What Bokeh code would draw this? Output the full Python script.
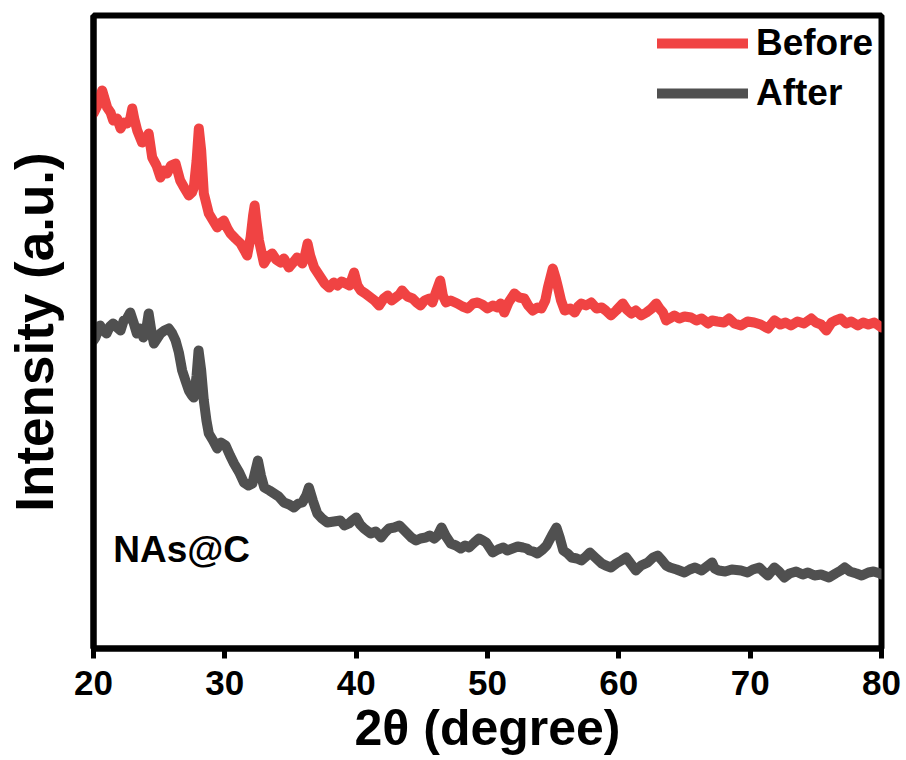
from bokeh.plotting import figure
from bokeh.models import Range1d, FixedTicker, Legend, LegendItem, Label
from bokeh.embed import file_html
from bokeh.resources import INLINE

FONT = "Liberation Sans"

before_2theta = [
    20.0, 20.3, 20.66, 21.04, 21.3, 21.5, 21.8, 22.06, 22.3, 22.57,
    22.8, 22.95, 23.1, 23.33, 23.7, 24.0, 24.2, 24.47, 24.8, 25.1,
    25.35, 25.6, 25.9, 26.25, 26.6, 26.9, 27.26, 27.5, 27.64, 27.85,
    28.02, 28.2, 28.4, 28.78, 29.1, 29.42, 29.7, 29.92, 30.2, 30.43,
    30.8, 31.2, 31.5, 31.7, 31.96, 32.15, 32.27, 32.4, 32.6, 32.98,
    33.3, 33.6, 33.9, 34.25, 34.5, 34.88, 35.2, 35.5, 35.9, 36.1,
    36.3, 36.5, 36.8, 37.3, 37.6, 37.94, 38.3, 38.57, 38.9, 39.2,
    39.5, 39.84, 40.1, 40.35, 40.7, 41.1, 41.4, 41.75, 42.1, 42.4,
    42.7, 43.0, 43.3, 43.5, 43.9, 44.3, 44.6, 44.9, 45.2, 45.56,
    45.8, 46.07, 46.4, 46.6, 46.84, 47.2, 47.7, 48.1, 48.5, 48.9,
    49.25, 49.6, 50.0, 50.4, 50.78, 51.0, 51.28, 51.6, 52.05, 52.4,
    52.8, 53.1, 53.44, 53.8, 54.1, 54.4, 54.6, 54.97, 55.2, 55.37,
    55.6, 55.88, 56.3, 56.64, 56.9, 57.15, 57.5, 57.9, 58.3, 58.7,
    59.0, 59.4, 59.8, 60.3, 60.6, 60.95, 61.3, 61.7, 62.1, 62.5,
    62.85, 63.1, 63.36, 63.6, 63.87, 64.23, 64.6, 65.0, 65.5, 65.9,
    66.3, 66.8, 67.1, 67.5, 68.0, 68.4, 68.8, 69.3, 69.8, 70.3,
    70.8, 71.35, 71.85, 72.3, 72.7, 73.1, 73.6, 74.1, 74.65, 75.0,
    75.4, 75.8, 76.2, 76.5, 76.9, 77.3, 77.7, 78.2, 78.6, 79.0,
    79.45, 80.0,
]
before_intensity = [
    535, 543, 558, 541, 536, 528, 530, 520, 526, 525,
    530, 540, 530, 518, 506, 508, 515, 491, 483, 471,
    478, 475, 483, 485, 468, 461, 453, 456, 461, 488,
    520, 498, 455, 435, 428, 421, 426, 428, 420, 415,
    410, 405, 398, 393, 411, 433, 443, 428, 408, 385,
    392, 395, 389, 386, 390, 381, 386, 391, 385, 393,
    405, 393, 381, 371, 365, 361, 366, 363, 367, 365,
    363, 376, 363, 358, 355, 351, 348, 343, 350, 353,
    348, 351, 354, 358, 352, 350, 346, 343, 348, 350,
    346, 356, 368, 353, 346, 348, 345, 342, 340, 345,
    346, 344, 340, 343, 341, 345, 336, 346, 355, 351,
    350, 343, 338, 341, 340, 348, 361, 380, 370, 361,
    348, 338, 340, 336, 342, 345, 343, 346, 340, 341,
    338, 333, 338, 345, 339, 335, 338, 333, 336, 340,
    345, 340, 336, 328, 330, 333, 330, 332, 331, 328,
    330, 325, 328, 327, 326, 330, 325, 323, 327, 326,
    324, 320, 328, 324, 326, 323, 327, 325, 330, 326,
    324, 318, 326, 328, 330, 325, 327, 323, 326, 324,
    326, 321,
]

after_2theta = [
    20.0, 20.15, 20.5, 20.75, 21.0, 21.25, 21.5, 21.8, 22.06, 22.3,
    22.55, 22.8, 23.05, 23.3, 23.55, 23.8, 24.0, 24.2, 24.4, 24.6,
    24.85, 25.1, 25.4, 25.73, 26.0, 26.25, 26.5, 26.75, 27.0, 27.26,
    27.5, 27.64, 27.85, 28.0, 28.2, 28.4, 28.6, 28.78, 29.1, 29.42,
    29.7, 30.06, 30.4, 30.7, 31.1, 31.45, 31.8, 32.1, 32.3, 32.52,
    32.75, 33.0, 33.4, 33.75, 34.1, 34.5, 34.9, 35.26, 35.6, 35.9,
    36.2, 36.4, 36.7, 37.04, 37.4, 37.8, 38.3, 38.8, 39.1, 39.45,
    39.7, 40.0, 40.3, 40.6, 41.1, 41.5, 41.9, 42.2, 42.5, 42.9,
    43.3, 43.6, 43.9, 44.2, 44.56, 44.9, 45.3, 45.6, 45.95, 46.2,
    46.5, 46.8, 47.2, 47.6, 47.96, 48.3, 48.6, 49.0, 49.35, 49.65,
    49.9, 50.2, 50.4, 50.8, 51.2, 51.5, 51.9, 52.3, 52.7, 53.0,
    53.2, 53.5, 53.8, 54.2, 54.5, 54.9, 55.25, 55.5, 55.77, 56.1,
    56.4, 56.8, 57.15, 57.5, 57.8, 58.2, 58.7, 59.0, 59.4, 59.8,
    60.2, 60.56, 60.9, 61.3, 61.7, 62.2, 62.6, 62.96, 63.3, 63.6,
    63.9, 64.4, 65.0, 65.4, 65.8, 66.3, 66.7, 67.1, 67.3, 67.6,
    68.1, 68.6, 69.3, 69.8, 70.2, 70.7, 71.0, 71.35, 71.85, 72.2,
    72.6, 73.0, 73.5, 74.0, 74.4, 74.9, 75.4, 76.0, 76.5, 76.9,
    77.2, 77.6, 78.1, 78.5, 79.0, 79.4, 79.9, 80.0,
]
after_intensity = [
    308, 311, 323, 318, 315, 322, 325, 321, 318, 328,
    330, 336, 326, 315, 320, 311, 318, 335, 318, 305,
    310, 315, 318, 320, 315, 308, 296, 278, 268, 258,
    253, 251, 273, 298, 278, 248, 228, 215, 208, 200,
    206, 203, 193, 185, 176, 166, 163, 165, 176, 188,
    173, 161, 158, 155, 152, 146, 144, 141, 145, 146,
    153, 161, 148, 135, 130, 126, 127, 128, 123, 125,
    128, 131, 124, 120, 115, 117, 111, 116, 120, 121,
    123, 119, 115, 111, 108, 110, 111, 113, 110, 113,
    121, 113, 105, 103, 100, 103, 101, 106, 110, 108,
    106, 100, 96, 99, 101, 98, 100, 102, 101, 100,
    98, 97, 95, 99, 103, 113, 121, 111, 98, 95,
    91, 90, 88, 92, 96, 91, 85, 83, 81, 85,
    88, 91, 85, 78, 83, 86, 91, 93, 88, 83,
    81, 79, 76, 79, 81, 78, 82, 86, 80, 78,
    77, 79, 78, 76, 79, 81, 77, 73, 81, 77,
    71, 75, 77, 74, 76, 73, 74, 71, 75, 78,
    81, 77, 75, 73, 76, 77, 75, 74,
]

x_ticks = [20, 30, 40, 50, 60, 70, 80]
series_labels = ["Before", "After"]
series_colors = ["#F04343", "#505050"]
sample_name = "NAs@C"

p = figure(width=906, height=760, output_backend="svg", toolbar_location=None,
           x_range=Range1d(20, 80), y_range=Range1d(0, 633),
           min_border_left=93, min_border_right=25, min_border_top=15,
           min_border_bottom=112)
p.background_fill_color = "white"
p.border_fill_color = "white"
p.grid.visible = False
p.outline_line_color = "black"
p.outline_line_width = 6

r1 = p.line(before_2theta, before_intensity, line_color=series_colors[0],
            line_width=10, line_join="round", line_cap="round")
r2 = p.line(after_2theta, after_intensity, line_color=series_colors[1],
            line_width=10, line_join="round", line_cap="round")

xa = p.xaxis[0]
xa.ticker = FixedTicker(ticks=x_ticks)
xa.axis_label = "2\u03b8 (degree)"
xa.axis_label_text_font = FONT
xa.axis_label_text_font_style = "bold"
xa.axis_label_text_font_size = "50px"
xa.axis_label_text_color = "black"
xa.axis_label_standoff = 2
xa.major_label_text_font = FONT
xa.major_label_text_font_style = "bold"
xa.major_label_text_font_size = "35px"
xa.major_label_text_color = "black"
xa.major_label_standoff = 12
xa.axis_line_width = 6
xa.major_tick_line_width = 5
xa.major_tick_out = 10
xa.major_tick_in = 0
xa.minor_tick_line_color = None

ya = p.yaxis[0]
ya.ticker = FixedTicker(ticks=[])
ya.axis_label = "Intensity (a.u.)"
ya.axis_label_text_font = FONT
ya.axis_label_text_font_style = "bold"
ya.axis_label_text_font_size = "53px"
ya.axis_label_text_color = "black"
ya.axis_label_standoff = 30
ya.axis_line_width = 6
ya.major_tick_out = 0
ya.major_tick_in = 0
ya.minor_tick_line_color = None

legend = Legend(items=[LegendItem(label=series_labels[0], renderers=[r1]),
                       LegendItem(label=series_labels[1], renderers=[r2])],
                location=(564, 534), orientation="vertical",
                label_text_font=FONT, label_text_font_style="bold",
                label_text_font_size="37px", label_text_color="black",
                glyph_width=91, glyph_height=40,
                label_height=40, spacing=8, label_standoff=8, padding=0,
                margin=0, border_line_color=None, background_fill_alpha=0)
p.add_layout(legend)

p.add_layout(Label(x=21.5, y=99, text=sample_name, text_font=FONT,
                   text_font_style="bold", text_font_size="37px",
                   text_color="black", text_baseline="alphabetic"))

open("out.html", "w").write(file_html(p, INLINE))
